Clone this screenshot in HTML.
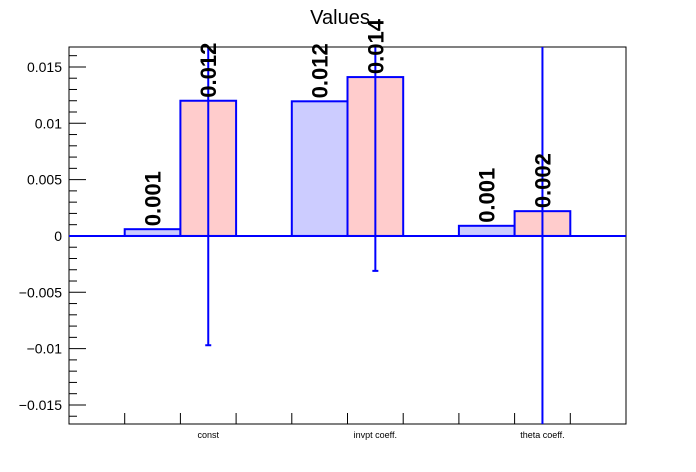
<!DOCTYPE html>
<html><head><meta charset="utf-8"><style>
body{margin:0;background:#fff;}
svg{display:block;font-family:"Liberation Sans",sans-serif;}
</style></head><body>
<svg id="chart" width="696" height="472" xmlns="http://www.w3.org/2000/svg">
<rect width="696" height="472" fill="#fff"/>
<text x="340" y="24" font-size="20" text-anchor="middle">Values</text>
<g id="plot"></g>
</svg>
<script>
const categories = ["const", "invpt coeff.", "theta coeff."];
const seriesA = [0.0006, 0.01195, 0.0009];
const seriesB = [0.012, 0.0141, 0.0022];
const errorsB = [0.0217, 0.0172, 0.025];
const labelsA = ["0.001", "0.012", "0.001"];
const labelsB = ["0.012", "0.014", "0.002"];
const yTicks = [-0.015, -0.01, -0.005, 0, 0.005, 0.01, 0.015];
const yTickLabels = ["\u22120.015", "\u22120.01", "\u22120.005", "0", "0.005", "0.01", "0.015"];

const L=69, R=626, T=47, B=424;
const yMin=-0.01669, yMax=0.01677;
const nUnits=10, unit=(R-L)/nUnits;
function y(v){return B-(v-yMin)/(yMax-yMin)*(B-T);}
function xu(u){return L+u*unit;}
const g=document.getElementById('plot');
const NS="http://www.w3.org/2000/svg";
function mk(tag,attrs,name){const e=document.createElementNS(NS,tag);for(const k in attrs)e.setAttribute(k,attrs[k]);


g.appendChild(e);return e;}

// frame
mk('rect',{x:L,y:T,width:R-L,height:B-T,fill:'none',stroke:'#000','stroke-width':1},'plot-frame');
// y ticks
for(let i=-16;i<=16;i++){const v=i*0.001;const yy=y(v);if(yy<T||yy>B)continue;
 const major=(i%5===0);
 mk('line',{x1:L,x2:L+(major?17:8),y1:yy,y2:yy,stroke:'#000','stroke-width':1},'y-tick');}
yTicks.forEach((v,i)=>{const t=mk('text',{x:L-7,y:y(v)+5,'font-size':14,'text-anchor':'end'},'y-tick-label');t.textContent=yTickLabels[i];});
// x ticks
for(let u=1;u<nUnits;u++){mk('line',{x1:xu(u),x2:xu(u),y1:B,y2:B-11,stroke:'#000','stroke-width':1},'x-tick');}
const y0=y(0);
categories.forEach((c,i)=>{
 const ua=1+3*i, ub=2+3*i;
 // bar A
 mk('rect',{x:xu(ua),y:Math.min(y(seriesA[i]),y0),width:unit,height:Math.abs(y0-y(seriesA[i])),fill:'#ccccff',stroke:'#0000ff','stroke-width':2},'bar-a-'+i);
 mk('rect',{x:xu(ub),y:Math.min(y(seriesB[i]),y0),width:unit,height:Math.abs(y0-y(seriesB[i])),fill:'#ffcccc',stroke:'#0000ff','stroke-width':2},'bar-b-'+i);
 const cx=xu(ub)+unit/2;
 const lo=Math.max(T,Math.min(B,y(seriesB[i]-errorsB[i]))), hi=Math.max(T,Math.min(B,y(seriesB[i]+errorsB[i])));
 mk('line',{x1:cx,x2:cx,y1:lo,y2:hi,stroke:'#0000ff','stroke-width':2},'error-bar-'+i);
 if(lo<B-1) mk('line',{x1:cx-3,x2:cx+3,y1:lo,y2:lo,stroke:'#0000ff','stroke-width':2},'error-cap-'+i);
 // value labels
 [[ua,seriesA[i],labelsA[i],'value-label-a'],[ub,seriesB[i],labelsB[i],'value-label-b']].forEach(([u,v,s,n])=>{
  const lx=xu(u)+unit/2+8, ly=y(v)-3;
  const t=mk('text',{x:lx,y:ly,'font-size':22,'font-weight':'bold',transform:`rotate(-90 ${lx} ${ly})`},n);t.textContent=s;});
 const t=mk('text',{x:cx,y:B+14,'font-size':9,'text-anchor':'middle'},'x-category-label');t.textContent=c;
});
mk('line',{x1:L,x2:R,y1:y0,y2:y0,stroke:'#0000ff','stroke-width':2},'zero-line');
</script>
</body></html>
